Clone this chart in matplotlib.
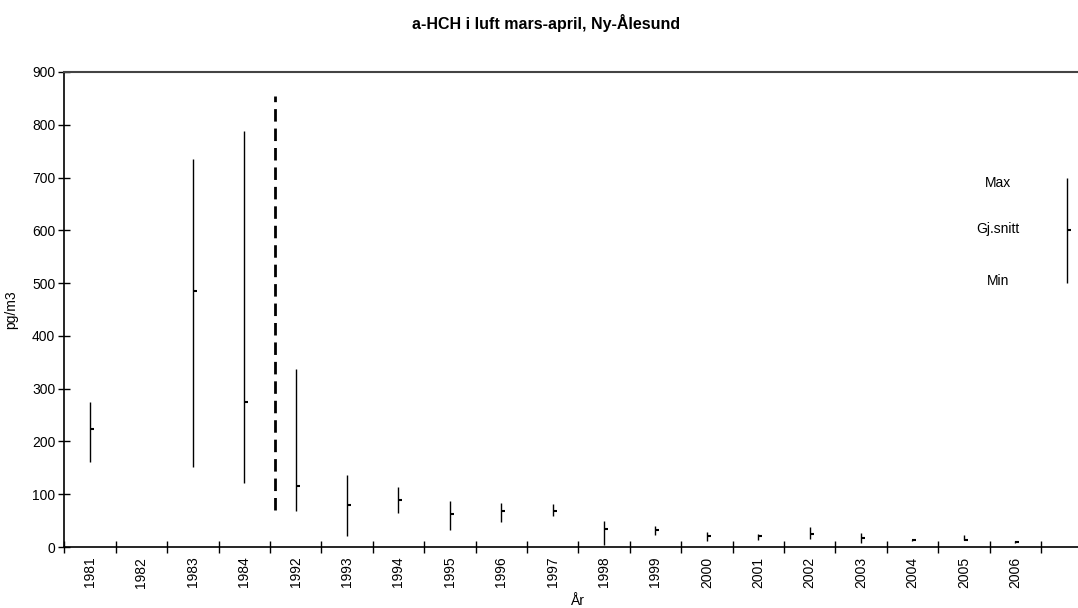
import matplotlib.pyplot as plt
import matplotlib.lines as mlines
import numpy as np

plt.rcParams['font.family'] = ['Liberation Sans', 'DejaVu Sans']

years = ['1981', '1982', '1983', '1984', '1992', '1993', '1994', '1995', '1996',
         '1997', '1998', '1999', '2000', '2001', '2002', '2003', '2004', '2005', '2006']
# None = no measurement that year
max_vals = [275, None, 735, 788, 338, 137, 113, 88, 83, 81, 50, 40, 29, 25, 37, 27, 14, 22, 12]
min_vals = [161, None, 152, 122, 69, 21, 65, 33, 47, 59, 4, 23, 11, 13, 16, 8, 11, 13, 8]
mean_vals = [224, None, 486, 275, 116, 80, 90, 63, 68, 69, 35, 32, 21, 21, 25, 17, 13, 14, 10]

# break marker between 1984 and 1992
gap_low = 70
gap_high = 854

# the little key drawn in the last category
key_max, key_mean, key_min = 700, 600, 500
key_labels = ['Max', 'Gj.snitt', 'Min']

fig = plt.figure(figsize=(10.78, 6.08), dpi=100)
ax = fig.add_axes([0.0597, 0.1003, 0.9536, 0.7813])

n = len(years) + 1
for i in range(len(years)):
    if max_vals[i] is None:
        continue
    ax.vlines(i, min_vals[i], max_vals[i], color='black', lw=1.0)
    ax.plot(i, mean_vals[i], marker=mlines.TICKRIGHT, color='black', ms=3, mew=1.5)

# key
k = n - 1
ax.vlines(k, key_min, key_max, color='black', lw=1.0)
ax.plot(k, key_mean, marker=mlines.TICKRIGHT, color='black', ms=3, mew=1.5)
ax.text(17.67, 690, key_labels[0], ha='center', va='center', fontsize=10)
ax.text(17.67, 602, key_labels[1], ha='center', va='center', fontsize=10)
ax.text(17.67, 504, key_labels[2], ha='center', va='center', fontsize=10)

# dashed break line
ax.vlines(3.6, gap_low, gap_high, color='black', lw=2.0, linestyles=(0, (4.5, 2.5)))

ax.set_xlim(-0.5, n - 0.5)
ax.set_ylim(0, 900)
ax.set_yticks(np.arange(0, 901, 100))

ax.set_xticks(np.arange(-0.5, n - 1, 1.0))
ax.set_xticklabels([])
ax.set_xticks(np.arange(len(years)), minor=True)
ax.set_xticklabels(years, minor=True, rotation=90)
ax.tick_params(axis='x', which='major', direction='inout', length=9, width=1)
ax.tick_params(axis='x', which='minor', length=0, pad=7, labelsize=10)
ax.tick_params(axis='y', direction='inout', length=9, width=1, labelsize=10, pad=2)

ax.spines['right'].set_visible(False)
ax.spines['top'].set_color('#444444')
ax.spines['top'].set_linewidth(1.5)
for s in ['left', 'bottom']:
    ax.spines[s].set_linewidth(1.2)

ax.set_xlabel('År', fontsize=10, labelpad=4)
ax.set_ylabel('pg/m3', fontsize=10, labelpad=10)
fig.text(0.507, 0.962, 'a-HCH i luft mars-april, Ny-Ålesund', ha='center', va='center',
         fontsize=11.5, fontweight='bold')

plt.savefig('out.png', dpi=100)
